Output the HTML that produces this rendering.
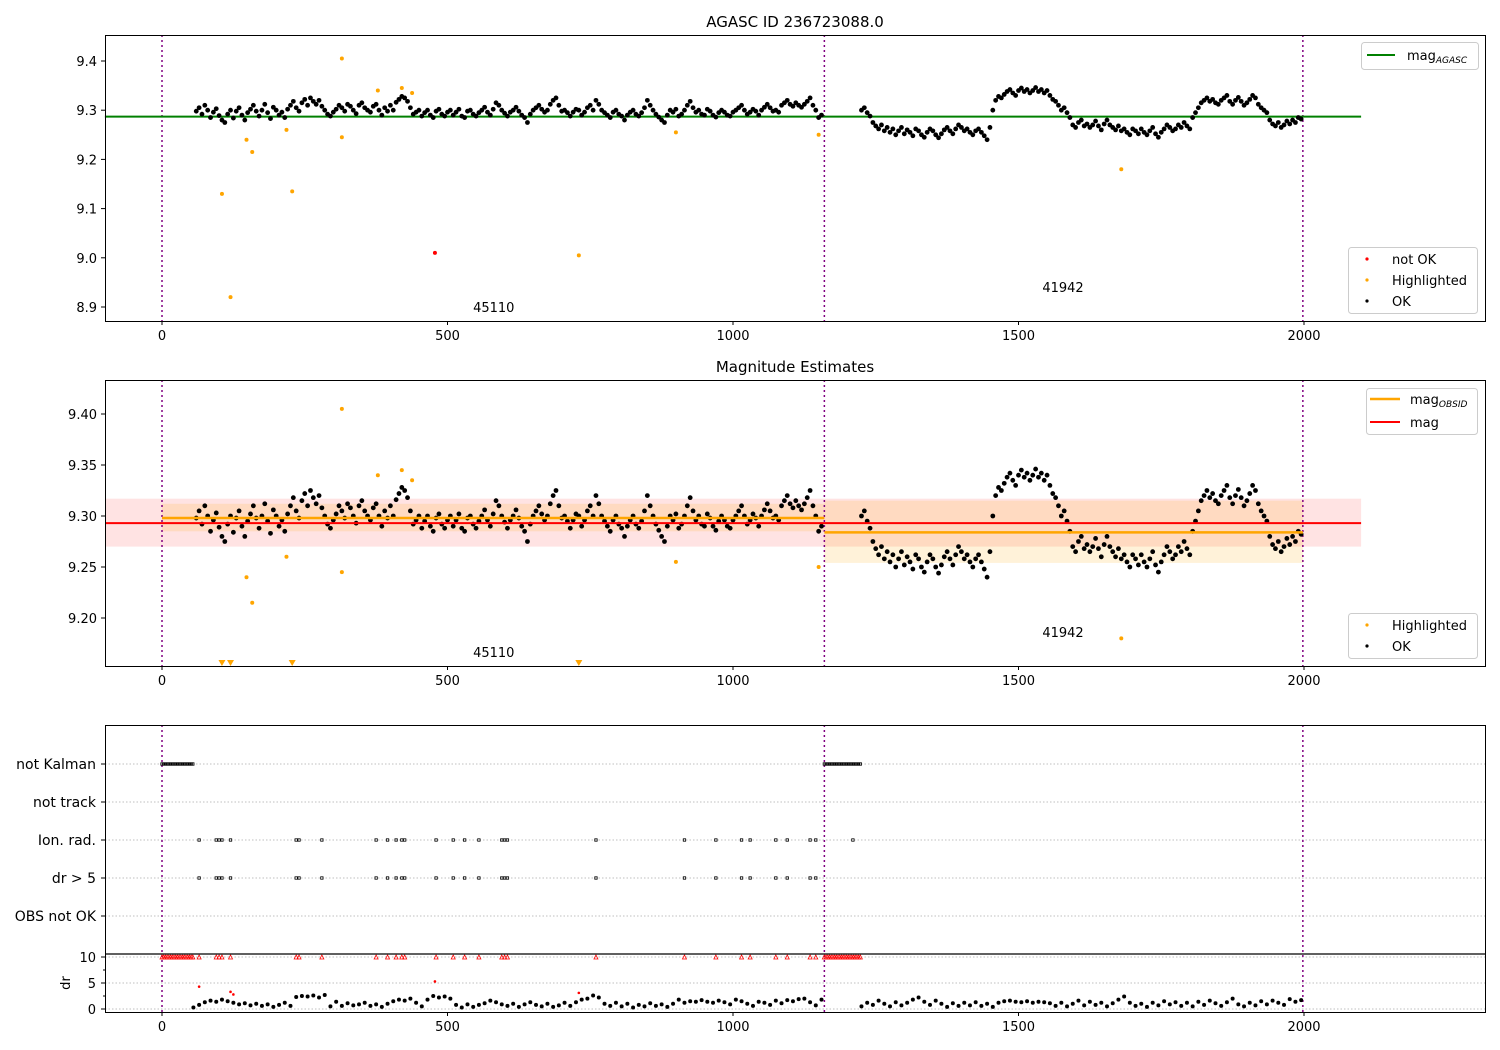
<!DOCTYPE html>
<html><head><meta charset="utf-8"><style>
body{margin:0;background:#fff;}
svg{font-family:"DejaVu Sans","Liberation Sans",sans-serif;display:block}
</style></head><body>
<svg id="c" width="1500" height="1050" viewBox="0 0 1500 1050" xmlns="http://www.w3.org/2000/svg">
<rect width="1500" height="1050" fill="#fff"/>
<text x="795" y="27" text-anchor="middle" font-size="15">AGASC ID 236723088.0</text>
<text x="795" y="372" text-anchor="middle" font-size="15">Magnitude Estimates</text>
<g id="g"></g>
</svg>
<script>
// ---- data ----
const obs1Start = 60, obs2Start = 1225, magStep = 5;
const magObs1 = [
9.298,9.305,9.292,9.310,9.300,9.285,9.296,9.303,9.289,9.280,
9.275,9.292,9.300,9.284,9.298,9.305,9.290,9.280,9.295,9.302,
9.310,9.298,9.288,9.300,9.312,9.295,9.283,9.306,9.300,9.290,
9.296,9.285,9.302,9.310,9.318,9.305,9.298,9.315,9.322,9.310,
9.325,9.318,9.312,9.320,9.308,9.300,9.292,9.288,9.296,9.302,
9.310,9.305,9.298,9.312,9.308,9.300,9.293,9.310,9.315,9.305,
9.300,9.296,9.308,9.312,9.300,9.290,9.305,9.298,9.310,9.300,
9.316,9.322,9.328,9.325,9.318,9.305,9.292,9.296,9.300,9.288,
9.295,9.300,9.290,9.285,9.298,9.302,9.292,9.288,9.296,9.300,
9.290,9.296,9.302,9.288,9.285,9.298,9.300,9.292,9.288,9.295,
9.300,9.306,9.296,9.290,9.302,9.315,9.310,9.300,9.294,9.288,
9.296,9.300,9.306,9.298,9.290,9.285,9.275,9.292,9.300,9.305,
9.310,9.302,9.296,9.300,9.312,9.320,9.325,9.310,9.298,9.300,
9.295,9.288,9.296,9.302,9.300,9.290,9.296,9.305,9.310,9.300,
9.320,9.312,9.300,9.295,9.290,9.285,9.296,9.300,9.292,9.288,
9.280,9.290,9.296,9.300,9.292,9.288,9.295,9.305,9.320,9.310,
9.300,9.292,9.286,9.280,9.275,9.290,9.300,9.296,9.302,9.288,
9.292,9.300,9.310,9.318,9.305,9.296,9.300,9.292,9.290,9.302,
9.298,9.290,9.286,9.295,9.300,9.296,9.290,9.288,9.296,9.300,
9.305,9.310,9.300,9.292,9.296,9.302,9.298,9.290,9.300,9.306,
9.312,9.305,9.298,9.300,9.296,9.310,9.315,9.320,9.312,9.308,
9.315,9.310,9.306,9.312,9.318,9.325,9.310,9.300,9.285,9.290];
const magObs2 = [
9.300,9.305,9.295,9.288,9.275,9.268,9.262,9.270,9.258,9.265,
9.255,9.262,9.250,9.258,9.265,9.252,9.260,9.255,9.248,9.262,
9.258,9.250,9.245,9.255,9.262,9.258,9.250,9.244,9.252,9.260,
9.265,9.258,9.252,9.262,9.270,9.265,9.258,9.262,9.255,9.250,
9.258,9.262,9.255,9.248,9.240,9.265,9.300,9.320,9.328,9.325,
9.332,9.338,9.342,9.335,9.330,9.340,9.345,9.338,9.342,9.335,
9.340,9.346,9.338,9.342,9.335,9.340,9.330,9.322,9.318,9.310,
9.300,9.305,9.295,9.285,9.270,9.265,9.275,9.280,9.268,9.272,
9.265,9.270,9.278,9.268,9.260,9.272,9.280,9.270,9.265,9.260,
9.268,9.258,9.262,9.255,9.250,9.262,9.258,9.252,9.262,9.255,
9.250,9.258,9.265,9.252,9.245,9.255,9.262,9.270,9.265,9.258,
9.262,9.270,9.265,9.275,9.268,9.262,9.285,9.295,9.305,9.315,
9.320,9.325,9.318,9.322,9.315,9.312,9.320,9.325,9.330,9.318,
9.312,9.320,9.326,9.318,9.310,9.315,9.322,9.330,9.325,9.312,
9.305,9.300,9.295,9.280,9.272,9.268,9.275,9.265,9.270,9.278,
9.272,9.280,9.275,9.285,9.282];
const hlTimes = [105,120,148,158,218,228,315,315,378,420,438,730,900,1150,1680];
const hlMags  = [9.13,8.92,9.24,9.215,9.26,9.135,9.405,9.245,9.34,9.345,9.335,9.005,9.255,9.25,9.18];
const notOkTimes = [478];
const notOkMags = [9.01];
const magAgasc = 9.287;
const magMean = 9.293, magLo = 9.270, magHi = 9.317;
const obsidNames = ["45110","41942"];
const obsidStart = [0,1160], obsidEnd = [1160,1998];
const obsidMag = [9.298,9.284], obsidLo = [9.285,9.254], obsidHi = [9.312,9.315];
const flagTimes = [65,95,100,105,120,235,240,280,375,395,410,420,425,480,510,530,555,595,600,605,760,915,970,1015,1030,1075,1095,1135,1145];
const ionOnlyTimes = [1210];
const kalmanRanges = [[0,55],[1160,1225]];
const drStep = 10, dr1Start = 55, dr2Start = 1225;
const dr1 = [0.3,0.8,1.3,1.6,1.4,1.8,1.5,1.2,0.9,1.1,
0.7,1.0,0.6,0.9,0.4,0.8,1.2,0.6,2.3,2.5,
2.4,2.6,2.2,2.7,0.5,1.4,0.6,1.1,0.7,0.9,
1.2,0.6,0.9,0.4,1.0,1.5,1.8,1.6,2.0,1.2,
0.5,1.8,2.5,2.2,2.4,2.0,0.8,0.3,0.9,0.4,
0.8,1.1,1.6,1.3,0.9,0.6,1.0,0.4,0.9,1.3,
0.8,0.5,1.0,0.4,0.7,1.2,0.6,1.3,1.8,2.0,
2.6,2.2,1.0,0.6,1.2,0.5,1.0,0.3,0.8,0.5,
1.1,0.6,0.9,0.4,1.0,1.8,1.2,1.5,1.4,1.7,
1.4,1.2,1.6,1.3,0.9,1.8,1.5,1.0,0.6,1.4,
1.2,0.8,1.6,1.1,1.7,1.5,1.9,2.0,1.3,0.7,1.8];
const dr2 = [0.5,1.2,0.8,1.6,1.0,0.5,1.3,0.7,1.2,1.8,
2.2,1.4,0.8,1.6,1.0,0.4,1.1,0.6,1.2,0.7,
1.3,0.6,1.0,0.4,1.2,1.5,1.6,1.4,1.3,1.5,
1.2,1.4,1.3,1.1,0.6,1.2,0.5,1.0,1.6,0.7,
1.4,0.8,1.2,0.5,1.1,1.8,2.4,1.2,0.6,1.0,
0.4,1.2,0.7,1.5,0.9,1.3,0.6,1.2,0.5,1.4,
0.8,1.6,1.1,0.6,1.3,2.0,0.9,0.5,1.2,0.7,
1.5,0.9,1.6,1.2,0.8,1.9,1.4,1.7];
const drRedTimes = [65,120,125,478,730];
const drRedVals = [4.3,3.3,2.8,5.3,3.1];
const xTicks = [0,500,1000,1500,2000];
const y1Ticks = [9.4,9.3,9.2,9.1,9.0,8.9];
const y2Ticks = [9.40,9.35,9.30,9.25,9.20];
const flagCats = ["not Kalman","not track","Ion. rad.","dr > 5","OBS not OK"];
const drTicks = [0,5,10];

// ---- axes ----
const NS="http://www.w3.org/2000/svg", G=document.getElementById('g');
const X = t => 162 + t*(1304-162)/2000;
const Y1 = m => 307 + (m-8.9)*(61-307)/0.5;
const Y2 = m => 618 + (m-9.2)*(414-618)/0.2;
const YC = i => 764 + i*38;
const YD = d => 1009 - d*5.2;
function el(tag, a, parent){const e=document.createElementNS(NS,tag);for(const k in a)e.setAttribute(k,a[k]);(parent||G).appendChild(e);return e;}
function txt(x,y,s,a,parent){const e=el('text',Object.assign({x:x,y:y},a),parent);e.textContent=s;return e;}

function panel(top,bot,name){
  const g=el('g',{});
  
  
  return g;
}
function frame(g,top,bot){
  const r=el('rect',{x:105.5,y:top+.5,width:1380,height:bot-top,fill:'none',stroke:'#000','stroke-width':1},g);
  
  
}
function xaxis(g,bot){
  xTicks.forEach(t=>{
    el('line',{x1:X(t),x2:X(t),y1:bot,y2:bot+4,stroke:'#000'},g);
    const l=txt(X(t),bot+19,String(t),{'text-anchor':'middle','font-size':13},g);
    
    
  });
}
function vlines(g,top,bot){
  [0,1160,1998].forEach(t=>{
    const l=el('line',{x1:X(t),x2:X(t),y1:top,y2:bot,stroke:'#800080','stroke-width':1.5,'stroke-dasharray':'2,3'},g);
    
    
  });
}
function dots(g,ts,vs,fy,color,r,name){
  const gg=el('g',{fill:color},g);
  
  
  ts.forEach((t,i)=>el('circle',{cx:X(t),cy:fy(vs[i]),r:r},gg));
}
function series(start,step,n){const a=[];for(let i=0;i<n;i++)a.push(start+i*step);return a;}
const t1=series(obs1Start,magStep,magObs1.length), t2=series(obs2Start,magStep,magObs2.length);

// ---- panel 1 ----
const p1=panel(35,321,'agasc-panel');
vlines(p1,35,321);
const gl=el('line',{x1:X(-100),x2:X(2100),y1:Y1(magAgasc),y2:Y1(magAgasc),stroke:'#008000','stroke-width':2},p1);


dots(p1,t1,magObs1,Y1,'#000',2.4,'ok-points-obsid1');
dots(p1,t2,magObs2,Y1,'#000',2.4,'ok-points-obsid2');
dots(p1,hlTimes,hlMags,Y1,'orange',2,'highlighted-points');
dots(p1,notOkTimes,notOkMags,Y1,'red',2,'not-ok-points');
y1Ticks.forEach(v=>{el('line',{x1:101,x2:105,y1:Y1(v),y2:Y1(v),stroke:'#000'},p1);
  const l=txt(97,Y1(v)+5,v.toFixed(1),{'text-anchor':'end','font-size':13},p1);
  
  });
txt(X(581),312,obsidNames[0],{'text-anchor':'middle','font-size':13},p1);
txt(X(1578),292,obsidNames[1],{'text-anchor':'middle','font-size':13},p1);
frame(p1,35,321);
xaxis(p1,321);
// legends panel1
const lg1=el('g',{},p1);


el('rect',{x:1361.5,y:42.5,width:117,height:27,rx:3,fill:'#fff',stroke:'#ccc'},lg1);
el('line',{x1:1367,x2:1395,y1:55,y2:55,stroke:'#008000','stroke-width':2},lg1);
const t=txt(1407,60,'mag',{'font-size':13},lg1); const s=el('tspan',{'font-size':9,'font-style':'italic',dy:3},t); s.textContent='AGASC';
const lg2=el('g',{},p1);


el('rect',{x:1348.5,y:247.5,width:129,height:66,rx:3,fill:'#fff',stroke:'#ccc'},lg2);
[['red','not OK',259],['orange','Highlighted',280],['#000','OK',301]].forEach(a=>{el('circle',{cx:1367,cy:a[2],r:1.6,fill:a[0]},lg2);txt(1392,a[2]+5,a[1],{'font-size':13},lg2);});

// ---- panel 2 ----
const p2=panel(380,666,'magnitude-panel');
const cp=el('clipPath',{id:'cp2'},p2); el('rect',{x:105,y:380,width:1380,height:286},cp);
const p2c=el('g',{'clip-path':'url(#cp2)'},p2);
el('rect',{x:X(-100),y:Y2(magHi),width:X(2100)-X(-100),height:Y2(magLo)-Y2(magHi),fill:'rgba(255,0,0,0.11)'},p2c);
obsidStart.forEach((s0,i)=>{
  const b=el('rect',{x:X(s0),y:Y2(obsidHi[i]),width:X(obsidEnd[i])-X(s0),height:Y2(obsidLo[i])-Y2(obsidHi[i]),fill:'rgba(255,165,0,0.15)'},p2c);
  
  
});
vlines(p2c,380,666);
dots(p2c,t1,magObs1,Y2,'#000',2.4,'ok-points-obsid1');
dots(p2c,t2,magObs2,Y2,'#000',2.4,'ok-points-obsid2');
const hlIn=hlTimes.filter((t,i)=>hlMags[i]>=9.155), hlInV=hlMags.filter(v=>v>=9.155);
dots(p2c,hlIn,hlInV,Y2,'orange',2,'highlighted-points');
hlTimes.forEach((t,i)=>{ if(hlMags[i]<9.155){
  const tr=el('path',{d:`M${X(t)-3.5},660 L${X(t)+3.5},660 L${X(t)},666 Z`,fill:'orange'},p2);
  
  }});
const ml=el('line',{x1:X(-100),x2:X(2100),y1:Y2(magMean),y2:Y2(magMean),stroke:'red','stroke-width':2},p2c);


obsidStart.forEach((s0,i)=>{
  const l=el('line',{x1:X(s0),x2:X(obsidEnd[i]),y1:Y2(obsidMag[i]),y2:Y2(obsidMag[i]),stroke:'orange','stroke-width':2.5},p2c);
  
  
});
y2Ticks.forEach(v=>{el('line',{x1:101,x2:105,y1:Y2(v),y2:Y2(v),stroke:'#000'},p2);
  const l=txt(97,Y2(v)+5,v.toFixed(2),{'text-anchor':'end','font-size':13},p2);
  
  });
txt(X(581),657,obsidNames[0],{'text-anchor':'middle','font-size':13},p2);
txt(X(1578),637,obsidNames[1],{'text-anchor':'middle','font-size':13},p2);
frame(p2,380,666);
xaxis(p2,666);
const lg3=el('g',{},p2);


el('rect',{x:1366.5,y:388.5,width:111,height:46,rx:3,fill:'#fff',stroke:'#ccc'},lg3);
el('line',{x1:1370,x2:1400,y1:399,y2:399,stroke:'orange','stroke-width':2.5},lg3);
const t3=txt(1410,404,'mag',{'font-size':13},lg3); const s3=el('tspan',{'font-size':9,'font-style':'italic',dy:3},t3); s3.textContent='OBSID';
el('line',{x1:1370,x2:1400,y1:422,y2:422,stroke:'red','stroke-width':2},lg3);
txt(1410,427,'mag',{'font-size':13},lg3);
const lg4=el('g',{},p2);


el('rect',{x:1348.5,y:613.5,width:129,height:45,rx:3,fill:'#fff',stroke:'#ccc'},lg4);
[['orange','Highlighted',625],['#000','OK',646]].forEach(a=>{el('circle',{cx:1367,cy:a[2],r:1.6,fill:a[0]},lg4);txt(1392,a[2]+5,a[1],{'font-size':13},lg4);});

// ---- panel 3 ----
const p3=panel(725,1012,'flags-panel');
flagCats.forEach((c,i)=>{
  el('line',{x1:105,x2:1485,y1:YC(i),y2:YC(i),stroke:'#aaa','stroke-dasharray':'1.5,2','stroke-width':0.8},p3);
  el('line',{x1:101,x2:105,y1:YC(i),y2:YC(i),stroke:'#000'},p3);
  const l=txt(96,YC(i)+5,c,{'text-anchor':'end','font-size':14},p3);
  
  
});
drTicks.forEach(d=>{
  el('line',{x1:105,x2:1485,y1:YD(d),y2:YD(d),stroke:'#aaa','stroke-dasharray':'1.5,2','stroke-width':0.8},p3);
  el('line',{x1:101,x2:105,y1:YD(d),y2:YD(d),stroke:'#000'},p3);
  const l=txt(96,YD(d)+5,String(d),{'text-anchor':'end','font-size':13},p3);
  
  
});
[2.5,7.5].forEach(d=>el('line',{x1:103,x2:105,y1:YD(d),y2:YD(d),stroke:'#000'},p3));
const dl=txt(70,983,'dr',{'text-anchor':'middle','font-size':13,transform:'rotate(-90 70 983)'},p3);


vlines(p3,725,1012);
const kg=el('g',{fill:'none',stroke:'#000','stroke-width':0.8},p3);


kalmanRanges.forEach(r=>{for(let t=r[0];t<=r[1];t+=3) el('rect',{x:X(t)-1.2,y:YC(0)-1.2,width:2.4,height:2.4},kg);});
const fg=el('g',{fill:'none',stroke:'#000','stroke-width':0.8},p3);


flagTimes.forEach(t=>{el('rect',{x:X(t)-1.2,y:YC(2)-1.2,width:2.4,height:2.4},fg);el('rect',{x:X(t)-1.2,y:YC(3)-1.2,width:2.4,height:2.4},fg);});
ionOnlyTimes.forEach(t=>el('rect',{x:X(t)-1.2,y:YC(2)-1.2,width:2.4,height:2.4},fg));
const rg=el('g',{fill:'none',stroke:'red','stroke-width':0.8},p3);


const capT=flagTimes.slice();
kalmanRanges.forEach(r=>{for(let t=r[0];t<=r[1];t+=3)capT.push(t);});
capT.forEach(t=>el('path',{d:`M${X(t)-2},${YD(10)+2} L${X(t)+2},${YD(10)+2} L${X(t)},${YD(10)-2} Z`},rg));
dots(p3,series(dr1Start,drStep,dr1.length),dr1,YD,'#000',2,'dr-points-obsid1');
dots(p3,series(dr2Start,drStep,dr2.length),dr2,YD,'#000',2,'dr-points-obsid2');
dots(p3,drRedTimes,drRedVals,YD,'red',1.3,'dr-not-ok-points');
el('line',{x1:105,x2:1485,y1:954,y2:954,stroke:'#000','stroke-width':1.2},p3);
frame(p3,725,1012);
xaxis(p3,1012);
</script>
</body></html>
